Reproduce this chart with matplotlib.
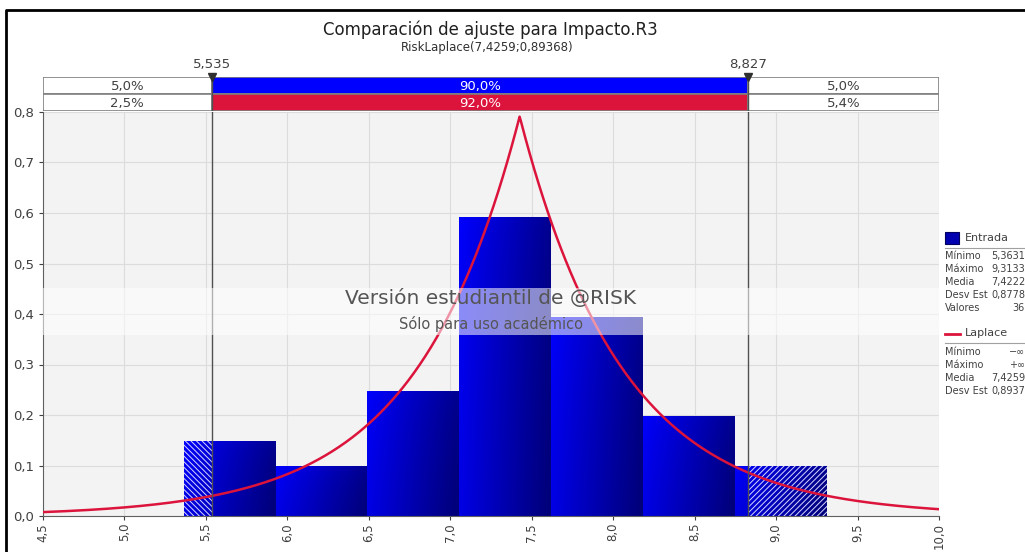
import numpy as np
import matplotlib
matplotlib.use("Agg")
import matplotlib.pyplot as plt
from matplotlib.colors import LinearSegmentedColormap
from matplotlib.patches import Rectangle
from matplotlib.lines import Line2D
from matplotlib.ticker import FuncFormatter


# =====================================================
# DATA
# =====================================================

title = "Comparación de ajuste para Impacto.R3"
subtitle = "RiskLaplace(7,4259;0,89368)"

# histogram of the input (36 values, 7 bins between min and max)
bin_counts = [3, 2, 5, 12, 8, 4, 2]
data_min = 5.3631
data_max = 9.3133
n_values = 36

# fitted Laplace
laplace_mu = 7.4259
laplace_sigma = 0.89368

# delimiters and band percentages
lower_cut = 5.535
upper_cut = 8.827
band_input = [5.0, 90.0, 5.0]
band_fit = [2.5, 92.0, 5.4]

# legend statistics
input_labels = ["Mínimo", "Máximo", "Media", "Desv Est", "Valores"]
input_stats = ["5,3631", "9,3133", "7,4222", "0,8778", "36"]
fit_labels = ["Mínimo", "Máximo", "Media", "Desv Est"]
fit_stats = ["\u2212\u221e", "+\u221e", "7,4259", "0,8937"]

x_min, x_max = 4.5, 10.0
y_max = 0.8

BLUE = "#0000ff"
RED = "#dc143c"
GRID = "#dcdcdc"
DARK = "#404040"


def comma(v, pos=None):
    return f"{v:.1f}".replace(".", ",")


# =====================================================
# FIGURE
# =====================================================

W, H = 1025, 552
plt.rcParams["font.family"] = ["DejaVu Sans"]
plt.rcParams["hatch.linewidth"] = 0.7
fig = plt.figure(figsize=(W / 100, H / 100), dpi=100)


def px_axes(x0, y0, x1, y1):
    return fig.add_axes([x0 / W, 1 - y1 / H, (x1 - x0) / W, (y1 - y0) / H])


ax = px_axes(43, 112, 939, 516)
ax.set_facecolor("#f3f3f3")
ax.set_xlim(x_min, x_max)
ax.set_ylim(0, y_max)
ax.set_xticks(np.arange(4.5, 10.01, 0.5))
ax.set_yticks(np.arange(0, 0.81, 0.1))
ax.xaxis.set_major_formatter(FuncFormatter(comma))
ax.yaxis.set_major_formatter(FuncFormatter(comma))
ax.tick_params(axis="x", labelrotation=90, labelsize=8.5, colors=DARK,
               length=3, pad=2)
ax.tick_params(axis="y", labelsize=9.5, colors=DARK, length=3)
ax.grid(color=GRID, lw=0.8)
ax.set_axisbelow(True)
for side in ["top", "right"]:
    ax.spines[side].set_visible(False)
for side in ["left", "bottom"]:
    ax.spines[side].set_color("#606060")

# gradient bars
edges = np.linspace(data_min, data_max, len(bin_counts) + 1)
width = edges[1] - edges[0]
heights = np.array(bin_counts) / (n_values * width)

cmap = LinearSegmentedColormap.from_list("bar", [BLUE, "#000078"])
u = np.linspace(0, 1, 64)[None, :]
v = np.linspace(1, 0, 64)[:, None]
grad = 0.8 * u + 0.2 * (1 - v) ** 0.6

for x0, h in zip(edges[:-1], heights):
    ax.imshow(grad, cmap=cmap, vmin=0, vmax=1, extent=[x0, x0 + width, 0, h],
              aspect="auto", zorder=2, interpolation="bilinear")

# hatched tails
ax.add_patch(Rectangle((edges[0], 0), lower_cut - edges[0], heights[0],
                       facecolor="none", edgecolor="#d8d8ff",
                       hatch="\\\\\\\\\\\\", lw=0, zorder=3))
ax.add_patch(Rectangle((upper_cut, 0), edges[-1] - upper_cut, heights[-1],
                       facecolor="none", edgecolor="#d8d8ff",
                       hatch="//////", lw=0, zorder=3))
ax.set_xlim(x_min, x_max)
ax.set_ylim(0, y_max)

# Laplace density
b = laplace_sigma / np.sqrt(2)
xs = np.linspace(x_min, x_max, 800)
pdf = np.exp(-np.abs(xs - laplace_mu) / b) / (2 * b)
ax.plot(xs, pdf, color=RED, lw=1.8, zorder=4)

# delimiter lines
for c in [lower_cut, upper_cut]:
    ax.axvline(c, color="#505050", lw=1, zorder=5)

# watermark
ax.axhspan(0.358, 0.452, color="white", alpha=0.55, lw=0, zorder=8)
ax.text(7.25, 0.43, "Versión estudiantil de @RISK", ha="center", va="center",
        fontsize=14.5, color="#555555", zorder=9)
ax.text(7.25, 0.38, "Sólo para uso académico", ha="center", va="center",
        fontsize=10.5, color="#555555", zorder=9)

# =====================================================
# BANDS ABOVE THE PLOT
# =====================================================

bx = px_axes(43, 77, 939, 111)
bx.set_xlim(x_min, x_max)
bx.set_ylim(0, 2)
bx.axis("off")

segments = [(x_min, lower_cut), (lower_cut, upper_cut), (upper_cut, x_max)]
for row, (vals, color) in enumerate([(band_input, BLUE), (band_fit, RED)]):
    y0 = 1 - row
    for i, ((s0, s1), val) in enumerate(zip(segments, vals)):
        fc = color if i == 1 else "white"
        tc = "white" if i == 1 else DARK
        bx.add_patch(Rectangle((s0, y0), s1 - s0, 1, facecolor=fc,
                               edgecolor="#808080", lw=1.2))
        bx.text((s0 + s1) / 2, y0 + 0.45, f"{val:.1f}%".replace(".", ","),
                ha="center", va="center", fontsize=9.5, color=tc)

for c in [lower_cut, upper_cut]:
    bx.plot([c, c], [0, 2], color="#505050", lw=1)
    bx.plot([c], [2], marker="v", color="#303030", ms=6, clip_on=False)
    bx.text(c, 2.35, f"{c:.3f}".replace(".", ","), ha="center", va="bottom",
            fontsize=9.5, color=DARK)

# titles
fig.text(490 / W, 1 - 30 / H, title, ha="center", va="center",
         fontsize=12, color="#202020")
fig.text(487 / W, 1 - 47 / H, subtitle, ha="center", va="center",
         fontsize=8.5, color="#303030")

# =====================================================
# LEGEND PANEL
# =====================================================


def fx(p):
    return p / W


def fy(p):
    return 1 - p / H


fig.patches.append(Rectangle((fx(945), fy(244)), 14 / W, 12 / H,
                             transform=fig.transFigure, facecolor="#0000b0",
                             edgecolor="#000060", lw=0.8))
fig.text(fx(965), fy(238), "Entrada", va="center", fontsize=8, color=DARK)
fig.lines.append(Line2D([fx(945), 1], [fy(248), fy(248)],
                        transform=fig.transFigure, color="#a0a0a0", lw=0.8))
for i, (lab, val) in enumerate(zip(input_labels, input_stats)):
    yy = fy(256 + 13 * i)
    fig.text(fx(945), yy, lab, va="center", fontsize=7.0, color=DARK)
    fig.text(fx(1025), yy, val, va="center", ha="right", fontsize=7.0, color=DARK)

fig.lines.append(Line2D([fx(945), fx(960)], [fy(334), fy(334)],
                        transform=fig.transFigure, color=RED, lw=2))
fig.text(fx(965), fy(333), "Laplace", va="center", fontsize=8, color=DARK)
fig.lines.append(Line2D([fx(945), 1], [fy(343), fy(343)],
                        transform=fig.transFigure, color="#a0a0a0", lw=0.8))
for i, (lab, val) in enumerate(zip(fit_labels, fit_stats)):
    yy = fy(352 + 13 * i)
    fig.text(fx(945), yy, lab, va="center", fontsize=7.0, color=DARK)
    fig.text(fx(1025), yy, val, va="center", ha="right", fontsize=7.0, color=DARK)

# outer frame (left and top)
fig.lines.append(Line2D([fx(6), fx(6), 1], [0, fy(10), fy(10)],
                        transform=fig.transFigure, color="black", lw=2))

fig.savefig("out.png", dpi=100)
